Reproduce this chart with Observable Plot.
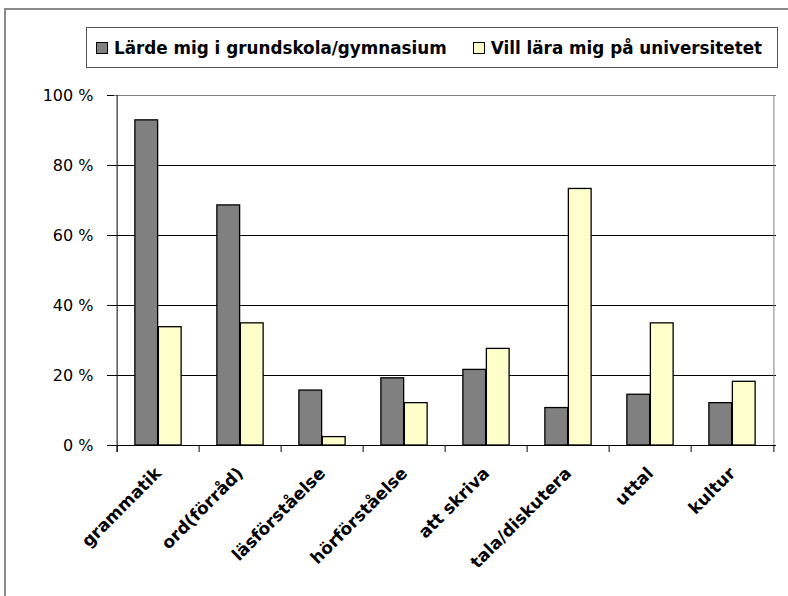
<!DOCTYPE html>
<html><head><meta charset="utf-8">
<script src="https://cdn.jsdelivr.net/npm/d3@7"></script>
<script src="https://cdn.jsdelivr.net/npm/@observablehq/plot@0.6"></script>
<style>
body{margin:0;background:#fff;}
#wrap{position:relative;width:788px;height:596px;overflow:hidden;font-family:"DejaVu Sans",sans-serif;background:#fff;}
#frame{position:absolute;left:4px;top:8px;width:900px;height:700px;border-left:2.5px solid #8a8a8a;border-top:2px solid #8a8a8a;}
#legend{position:absolute;left:86px;top:27px;width:692px;height:41px;border:1px solid #555;box-sizing:border-box;display:flex;align-items:center;padding-left:9px;font-weight:bold;font-size:16.8px;white-space:nowrap;color:#000;background:#fff;}
.item{display:flex;align-items:center;margin-right:26px;}
.sw{display:inline-block;width:10px;height:10px;border:1px solid #000;margin-right:6px;}
#chart{position:absolute;left:0;top:0;}
</style></head>
<body><div id="wrap"><div id="frame"></div><div id="chart"></div><div id="legend"></div></div>
<script>
const categories = ["grammatik","ord(förråd)","läsförståelse","hörförståelse","att skriva","tala/diskutera","uttal","kultur"];
const learned = [92.9, 68.6, 15.7, 19.2, 21.6, 10.7, 14.5, 12.1];
const wantToLearn = [33.8, 34.9, 2.4, 12.1, 27.6, 73.3, 34.9, 18.2];
const seriesNames = ["Lärde mig i grundskola/gymnasium", "Vill lära mig på universitetet"];
const seriesColors = ["#808080", "#ffffcc"];
const yTicks = [0, 20, 40, 60, 80, 100];
const gridValues = [20, 40, 60, 80];

const W = 788, H = 596, mL = 114, mR = 12, mT = 95, mB = 151;
const bw = (W - mL - mR) / categories.length;
const barW = 23.5;
const side = bw / 2 - barW;
const data1 = categories.map((c, i) => ({cat: c, v: learned[i]}));
const data2 = categories.map((c, i) => ({cat: c, v: wantToLearn[i]}));
const last = categories[categories.length - 1];

const chart = Plot.plot({
  width: W, height: H,
  marginLeft: mL, marginRight: mR, marginTop: mT, marginBottom: mB,
  style: {fontFamily: "DejaVu Sans", background: "transparent", color: "#000", overflow: "visible"},
  x: {type: "band", domain: categories, paddingInner: 0, paddingOuter: 0, label: null},
  y: {domain: [0, 100], label: null},
  marks: [
    Plot.ruleY(gridValues, {stroke: "#000", strokeWidth: 1}),
    Plot.ruleY([100], {stroke: "#808080", strokeWidth: 1}),
    Plot.tickX([last], {x: d => d, dx: bw / 2, stroke: "#808080"}),
    Plot.barY(data1, {x: "cat", y: "v", fill: seriesColors[0], stroke: "#000", strokeWidth: 1.3, insetLeft: side, insetRight: bw / 2}),
    Plot.barY(data2, {x: "cat", y: "v", fill: seriesColors[1], stroke: "#000", strokeWidth: 1.3, insetLeft: bw / 2, insetRight: side}),
    Plot.ruleY([0], {stroke: "#000", strokeWidth: 1}),
    Plot.tickX([categories[0]], {x: d => d, dx: -bw / 2, stroke: "#000", insetBottom: -7}),
    Plot.axisX({tickSize: 7, tickFormat: () => "", dx: -bw / 2, stroke: "#000", label: null}),
    Plot.axisX({ticks: [last], tickSize: 7, tickFormat: () => "", dx: bw / 2, stroke: "#000", label: null}),
    Plot.axisX({tickSize: 0, tickPadding: 25, tickRotate: -45, fontSize: 17, fontWeight: "bold", label: null}),
    Plot.axisY({ticks: yTicks, tickSize: 7, tickPadding: 14, tickFormat: d => d + " %", fontSize: 16, stroke: "#000", label: null})
  ]
});
document.getElementById("chart").appendChild(chart);

const legend = d3.select("#legend");
seriesNames.forEach((name, i) => {
  const item = legend.append("div").attr("class", "item");
  item.append("span").attr("class", "sw").style("background", seriesColors[i]);
  item.append("span").text(name);
});
</script>
</body></html>
